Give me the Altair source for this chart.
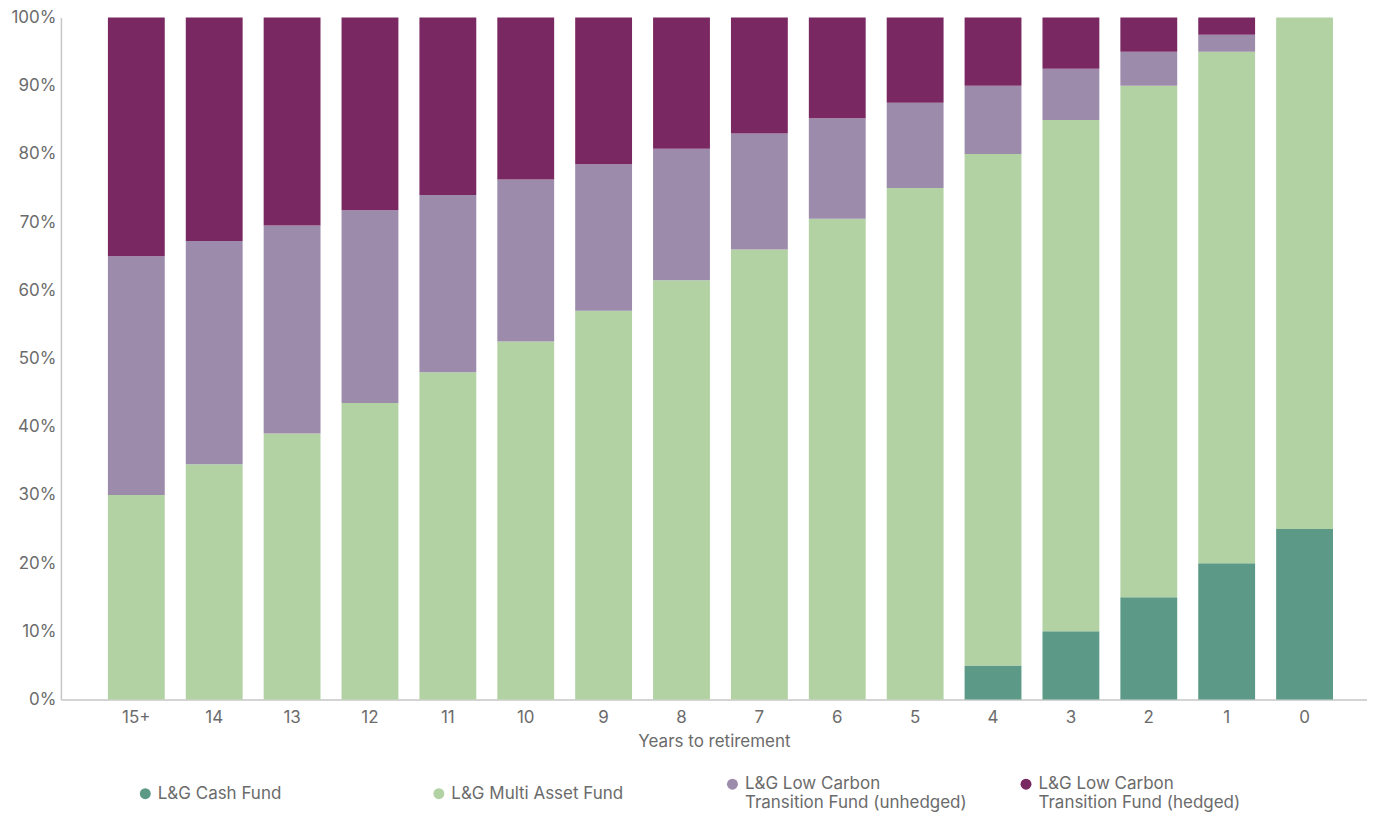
import altair as alt
import pandas as pd

years = ["15+", "14", "13", "12", "11", "10", "9", "8", "7", "6", "5", "4", "3", "2", "1", "0"]
series = [
    "L&G Cash Fund",
    "L&G Multi Asset Fund",
    "L&G Low Carbon\nTransition Fund (unhedged)",
    "L&G Low Carbon\nTransition Fund (hedged)",
]
colors = ["#5c9a87", "#b2d2a4", "#9d8bab", "#7a2862"]

cash = [0, 0, 0, 0, 0, 0, 0, 0, 0, 0, 0, 5, 10, 15, 20, 25]
multi = [30, 34.5, 39, 43.5, 48, 52.5, 57, 61.5, 66, 70.5, 75, 75, 75, 75, 75, 75]
unhedged = [35, 32.75, 30.5, 28.25, 26, 23.75, 21.5, 19.25, 17, 14.75, 12.5, 10, 7.5, 5, 2.5, 0]
hedged = [35, 32.75, 30.5, 28.25, 26, 23.75, 21.5, 19.25, 17, 14.75, 12.5, 10, 7.5, 5, 2.5, 0]

rows = []
for s_i, (name, vals) in enumerate(zip(series, [cash, multi, unhedged, hedged])):
    for y, v in zip(years, vals):
        rows.append({"year": y, "fund": name, "value": v, "order": s_i})
df = pd.DataFrame(rows)

FONT = "Inter"
GREY = "#6b6b6b"
FS = 17

chart = alt.Chart(df).mark_bar().encode(
    x=alt.X("year:N", sort=years, title="Years to retirement",
            scale=alt.Scale(paddingInner=0.27, paddingOuter=0.52, align=0.58),
            axis=alt.Axis(labelAngle=0, ticks=False, domainColor="#c6c6c6", domainWidth=1.5,
                          labelPadding=10, titlePadding=8)),
    y=alt.Y("value:Q", stack="zero", title=None,
            scale=alt.Scale(domain=[0, 100], nice=False),
            axis=alt.Axis(values=list(range(0, 101, 10)), labelExpr="datum.value + '%'",
                          grid=False, ticks=False, domainColor="#c6c6c6", domainWidth=1.5,
                          labelPadding=5)),
    color=alt.Color("fund:N", sort=series,
                    scale=alt.Scale(domain=series, range=colors),
                    legend=alt.Legend(title=None, orient="none", direction="horizontal",
                                      legendX=76, legendY=759,
                                      columns=4, symbolType="circle", symbolSize=120,
                                      labelExpr="split(datum.label, '\\n')",
                                      gridAlign="all", columnPadding=50, labelLimit=400)),
    order=alt.Order("order:Q", sort="ascending"),
).properties(
    width=1308, height=683,
    padding={"left": 2, "top": 0, "right": 0, "bottom": 0},
).configure_view(stroke=None).configure_axis(
    labelFont=FONT, labelFontSize=FS, labelColor=GREY,
    titleFont=FONT, titleFontSize=FS, titleColor=GREY, titleFontWeight="normal",
).configure_legend(
    labelFont=FONT, labelFontSize=FS, labelColor=GREY,
)

chart.save("out.html", embed_options={"renderer": "svg", "actions": False})
